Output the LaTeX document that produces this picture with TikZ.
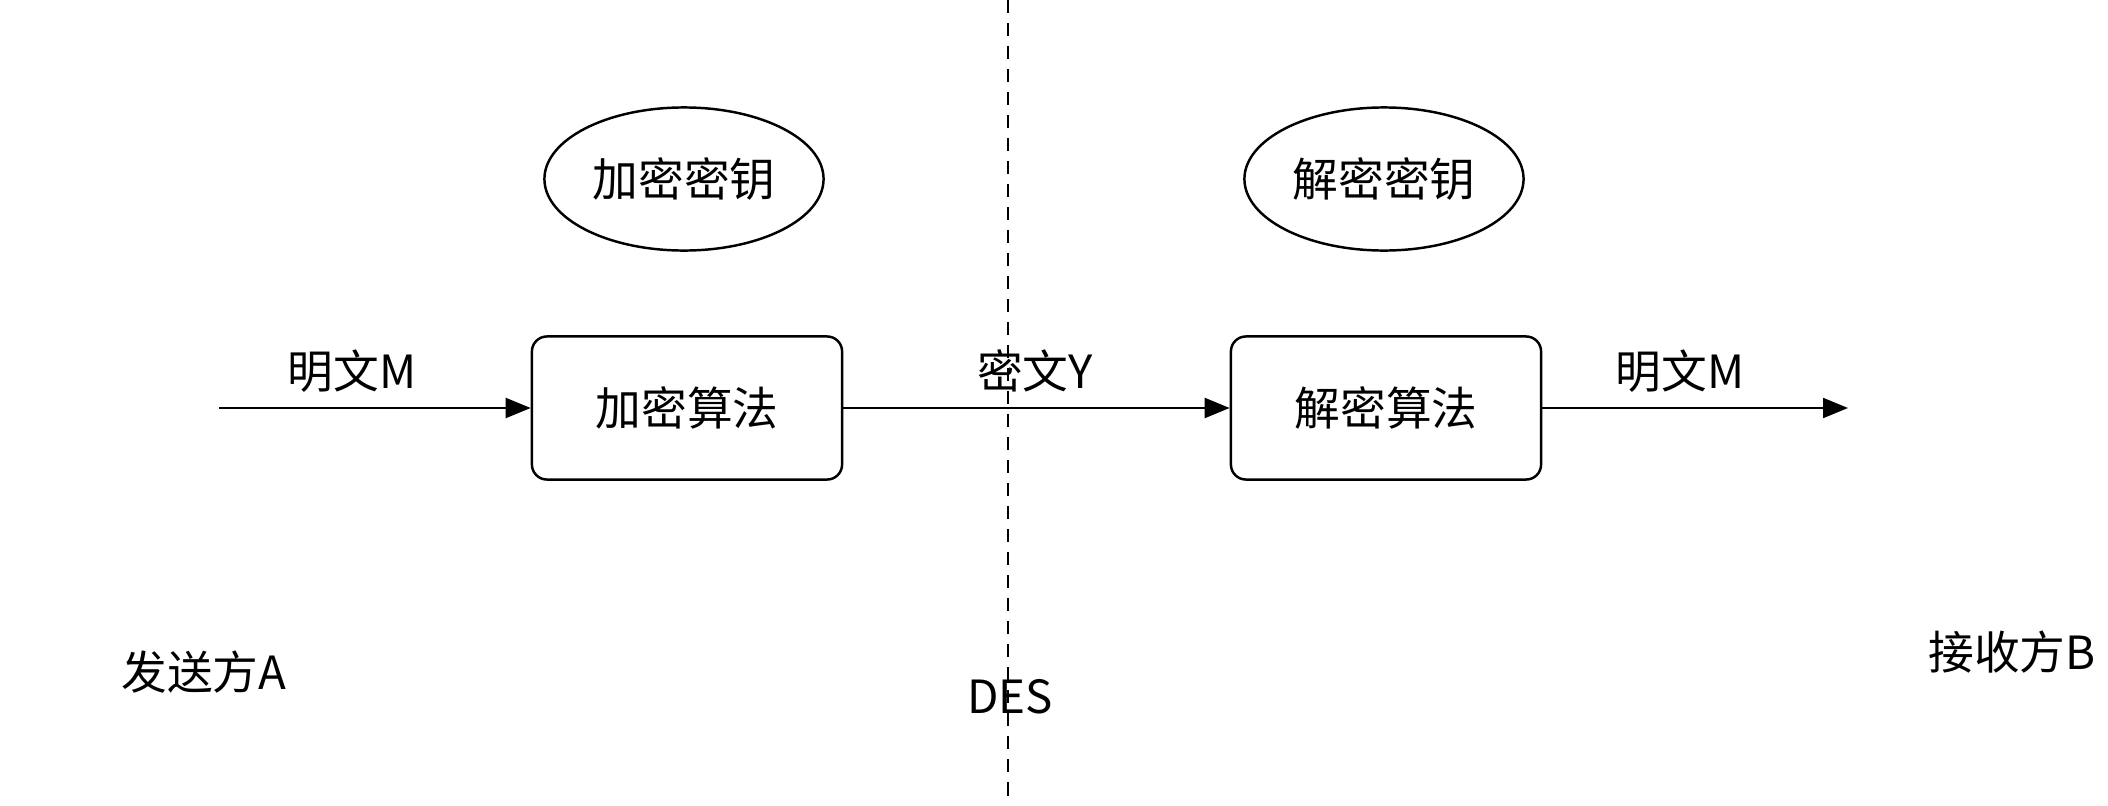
\documentclass[tikz,border=0pt]{standalone}
\usepackage{fontspec}
\setmainfont{Noto Sans CJK SC}
\usetikzlibrary{arrows.meta, shapes.geometric}
\tikzset{
  algbox/.style={draw, line width=0.7pt, rounded corners=0.15cm, minimum width=3.1cm, minimum height=1.43cm},
  keyell/.style={draw, ellipse, line width=0.7pt, minimum width=2.79cm, minimum height=1.43cm, inner sep=0pt},
  flow/.style={line width=0.6pt, -{Triangle[length=0.25cm,width=0.2cm]}},
  lbl/.style={inner sep=0pt}
}

\begin{document}
\begin{tikzpicture}[x=0.01cm, y=-0.01cm, font=\fontsize{13}{15}\selectfont]

\useasboundingbox (0,0) rectangle (2108,806);

\draw[line width=0.6pt, dash pattern=on 0.13cm off 0.1cm] (1008,0) -- (1008,806);

\node[keyell] (enckey) at (684,179) {加密密钥};
\node[keyell] (deckey) at (1384,179) {解密密钥};

\node[algbox] (encalg) at (687,408) {加密算法};
\node[algbox] (decalg) at (1386,408) {解密算法};

\coordinate (msgin) at (219,408);
\coordinate (msgout) at (1848,408);

\draw[flow] (msgin) -- (encalg);
\draw[flow] (encalg) -- (decalg);
\draw[flow] (decalg) -- (msgout);

\node[lbl] (plainin) at (352,371) {明文M};
\node[lbl] (cipher) at (1035,371) {密文Y};
\node[lbl] (plainout) at (1680,371) {明文M};

\node[lbl] (sender) at (204,672) {发送方A};
\node[lbl] (receiver) at (2012,652) {接收方B};
\node[lbl] (des) at (1010,697) {DES};

\end{tikzpicture}
\end{document}
